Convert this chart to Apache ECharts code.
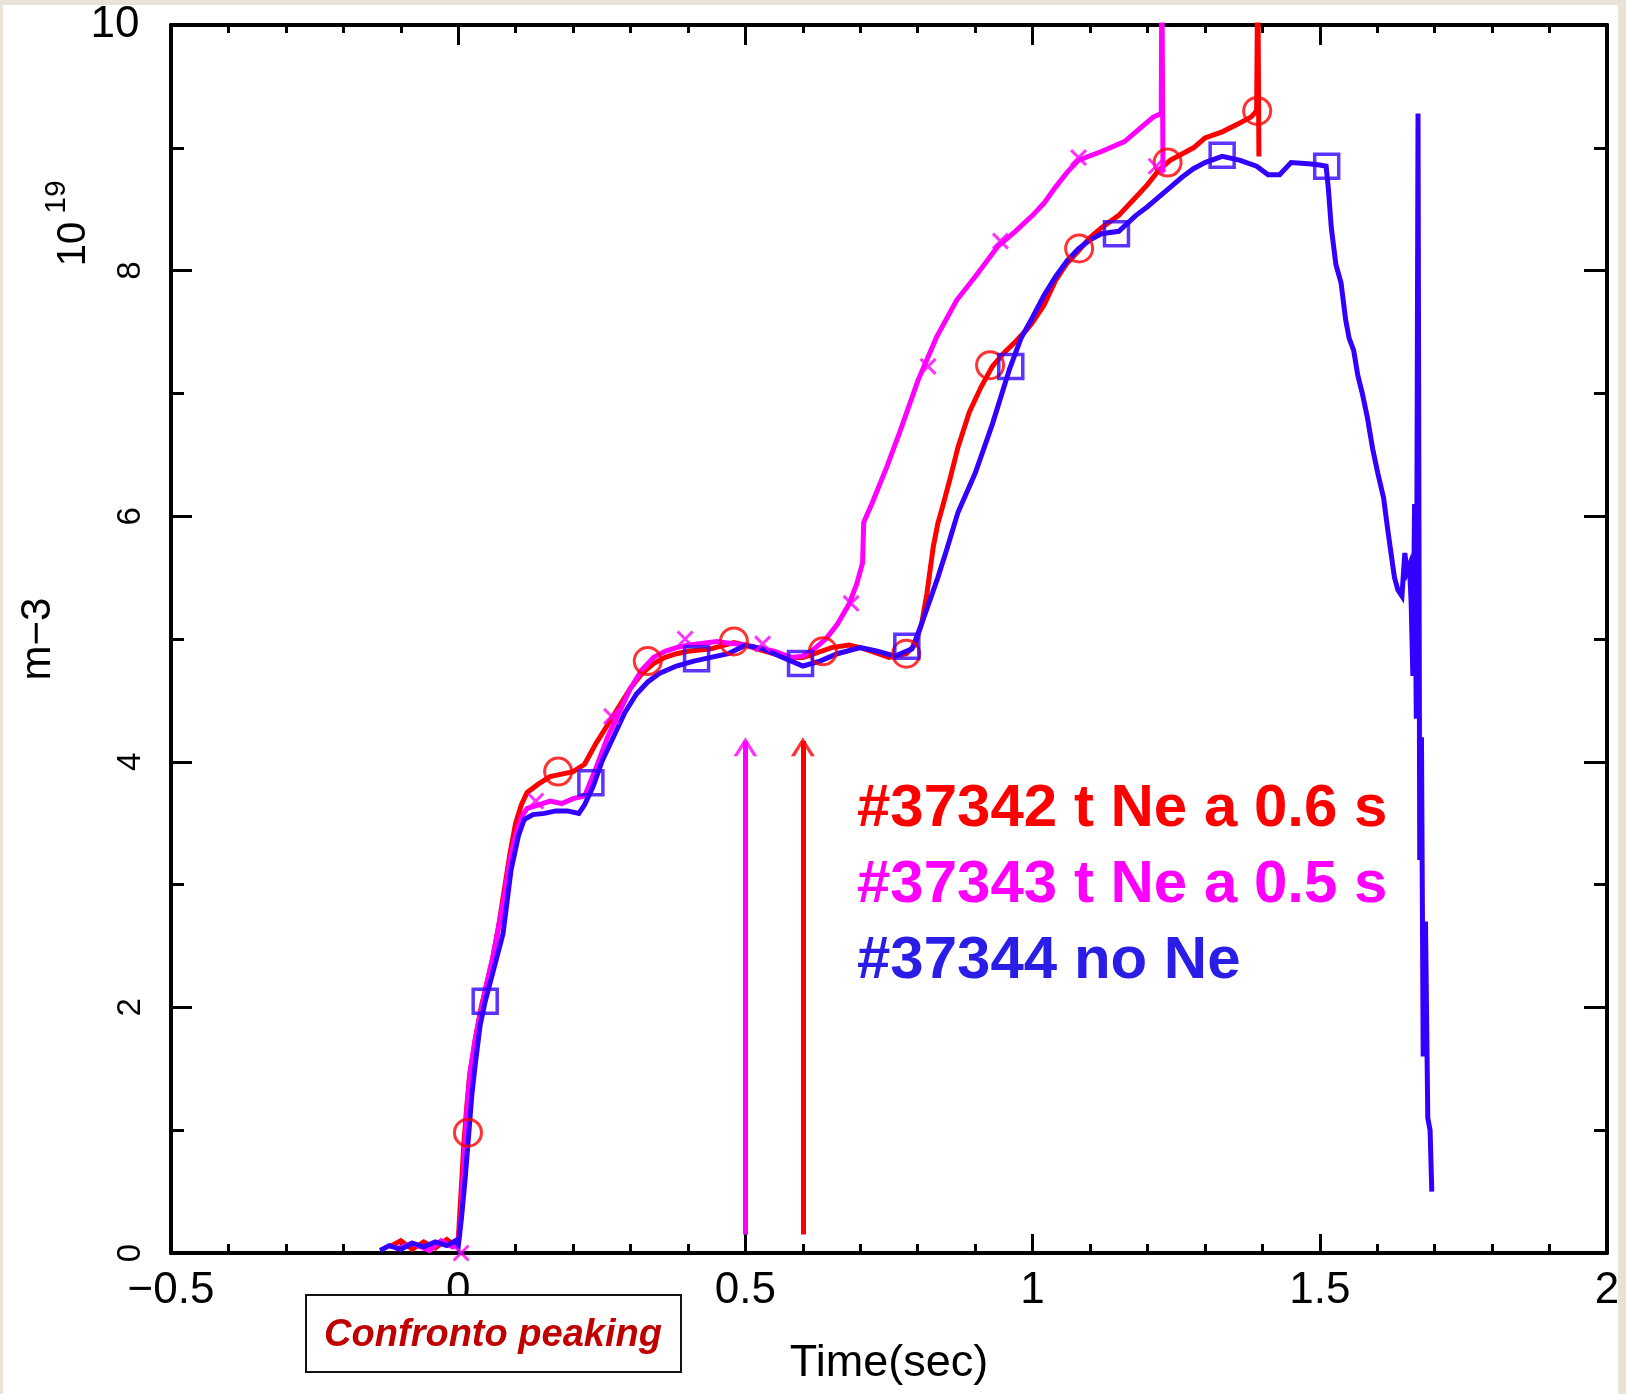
<!DOCTYPE html>
<html>
<head>
<meta charset="utf-8">
<script src="https://cdn.jsdelivr.net/npm/echarts@6/dist/echarts.min.js"></script>
<style>
  html, body { margin: 0; padding: 0; background: #ffffff; }
  #chart { width: 1626px; height: 1394px; }
</style>
</head>
<body>
<div id="chart"></div>
<script>
// ---------------- data (time in s, density in 1e19 m^-3) ----------------
const xTicks = [-0.5, 0, 0.5, 1, 1.5, 2];
const yTicks = [0, 2, 4, 6, 8, 10];

const shot37342 = [ // red, Ne at 0.6 s
  [-0.12,0.05],[-0.1,0.1],[-0.08,0.03],[-0.06,0.09],[-0.04,0.04],[-0.02,0.11],[-0.005,0.06],[0.0,0.1],
  [0.005,0.5],[0.01,0.9],[0.015,1.2],[0.02,1.45],[0.03,1.75],[0.04,2.0],[0.05,2.2],[0.06,2.4],
  [0.07,2.65],[0.08,2.95],[0.09,3.25],[0.1,3.5],[0.11,3.65],[0.12,3.75],[0.14,3.82],[0.16,3.88],
  [0.18,3.9],[0.2,3.92],[0.22,3.98],[0.24,4.15],[0.26,4.3],[0.28,4.45],[0.3,4.6],[0.32,4.72],
  [0.34,4.8],[0.36,4.85],[0.38,4.88],[0.4,4.9],[0.44,4.92],[0.48,4.97],[0.5,4.95],[0.52,4.92],
  [0.55,4.88],[0.58,4.85],[0.6,4.85],[0.62,4.88],[0.65,4.93],[0.68,4.95],[0.7,4.93],[0.72,4.9],
  [0.75,4.85],[0.78,4.88],[0.795,4.95],[0.807,5.13],[0.816,5.37],[0.827,5.75],[0.835,5.94],
  [0.844,6.09],[0.856,6.3],[0.87,6.56],[0.89,6.85],[0.91,7.05],[0.93,7.22],[0.95,7.33],[0.97,7.42],
  [0.99,7.52],[1.0,7.58],[1.02,7.72],[1.04,7.92],[1.06,8.06],[1.08,8.16],[1.1,8.27],[1.12,8.35],
  [1.15,8.45],[1.18,8.6],[1.2,8.7],[1.22,8.82],[1.24,8.9],[1.26,8.95],[1.28,9.0],[1.3,9.08],
  [1.33,9.13],[1.36,9.2],[1.38,9.25],[1.39,9.3],[1.392,10.5],[1.394,8.93]
];

const shot37343 = [ // magenta, Ne at 0.5 s
  [-0.11,0.03],[-0.08,0.08],[-0.05,0.02],[-0.03,0.1],[-0.01,0.05],[0.0,0.08],[0.005,0.3],[0.01,0.75],
  [0.015,1.15],[0.02,1.45],[0.03,1.75],[0.04,1.98],[0.05,2.2],[0.06,2.4],[0.07,2.65],[0.08,2.9],
  [0.09,3.2],[0.1,3.4],[0.11,3.55],[0.12,3.62],[0.14,3.65],[0.16,3.68],[0.18,3.66],[0.2,3.7],
  [0.22,3.72],[0.24,3.95],[0.26,4.2],[0.28,4.4],[0.3,4.6],[0.32,4.75],[0.34,4.85],[0.36,4.9],
  [0.38,4.93],[0.4,4.95],[0.45,4.98],[0.5,4.95],[0.55,4.9],[0.58,4.85],[0.6,4.86],[0.62,4.92],
  [0.64,5.0],[0.66,5.12],[0.68,5.28],[0.694,5.45],[0.704,5.62],[0.706,5.95],[0.72,6.1],[0.746,6.4],
  [0.77,6.7],[0.8,7.1],[0.833,7.46],[0.868,7.76],[0.9,7.95],[0.94,8.2],[0.97,8.32],[1.0,8.45],
  [1.02,8.55],[1.04,8.68],[1.06,8.8],[1.08,8.9],[1.12,8.97],[1.16,9.05],[1.19,9.17],[1.21,9.25],
  [1.224,9.28],[1.225,10.5],[1.227,8.8]
];

const shot37344 = [ // blue, no Ne
  [-0.136,0.02],[-0.12,0.06],[-0.1,0.03],[-0.08,0.08],[-0.06,0.05],[-0.04,0.09],[-0.02,0.06],[-0.005,0.1],
  [0.0,0.05],[0.006,0.3],[0.012,0.6],[0.018,0.95],[0.024,1.3],[0.03,1.55],[0.038,1.85],[0.047,2.05],
  [0.06,2.28],[0.078,2.6],[0.092,3.12],[0.105,3.4],[0.115,3.53],[0.13,3.57],[0.15,3.58],[0.17,3.6],
  [0.19,3.6],[0.21,3.58],[0.22,3.65],[0.235,3.8],[0.25,4.0],[0.27,4.2],[0.29,4.4],[0.31,4.55],
  [0.33,4.65],[0.35,4.72],[0.38,4.78],[0.41,4.82],[0.44,4.85],[0.47,4.88],[0.5,4.95],[0.53,4.92],
  [0.56,4.86],[0.6,4.78],[0.63,4.82],[0.66,4.88],[0.7,4.93],[0.73,4.9],[0.76,4.86],[0.79,4.92],
  [0.805,5.1],[0.82,5.3],[0.835,5.5],[0.85,5.72],[0.87,6.03],[0.9,6.35],[0.93,6.75],[0.96,7.2],
  [0.98,7.45],[1.0,7.62],[1.02,7.8],[1.04,7.95],[1.06,8.08],[1.08,8.18],[1.1,8.25],[1.12,8.3],
  [1.15,8.32],[1.18,8.45],[1.2,8.52],[1.22,8.6],[1.24,8.68],[1.26,8.76],[1.28,8.83],[1.3,8.88],
  [1.33,8.93],[1.36,8.9],[1.39,8.85],[1.41,8.78],[1.43,8.78],[1.45,8.88],[1.48,8.87],[1.5,8.86],
  [1.511,8.85],[1.515,8.66],[1.52,8.35],[1.528,8.05],[1.537,7.9],[1.545,7.6],[1.551,7.45],[1.559,7.35],
  [1.566,7.15],[1.574,7.0],[1.583,6.8],[1.592,6.55],[1.601,6.35],[1.611,6.15],[1.618,5.9],[1.624,5.7],
  [1.63,5.5],[1.636,5.4],[1.643,5.35],[1.648,5.7],[1.652,5.55],[1.656,5.6],[1.659,5.3],[1.662,4.7],
  [1.665,6.1],[1.668,4.35],[1.671,9.28],[1.674,3.2],[1.677,4.2],[1.68,1.6],[1.684,2.7],[1.688,1.1],
  [1.692,1.0],[1.695,0.5]
];

// markers drawn on the traces
const marks37342 = [[0.017,0.98],[0.174,3.92],[0.33,4.82],[0.48,4.98],[0.635,4.9],[0.78,4.88],[0.926,7.23],[1.081,8.18],[1.235,8.88],[1.391,9.3]];
const marks37343 = [[0.005,0.0],[0.135,3.68],[0.267,4.37],[0.395,5.0],[0.53,4.96],[0.684,5.29],[0.818,7.22],[0.944,8.24],[1.08,8.92],[1.215,8.85]];
const marks37344 = [[0.047,2.05],[0.231,3.83],[0.415,4.84],[0.596,4.8],[0.781,4.94],[0.962,7.22],[1.146,8.3],[1.33,8.94],[1.512,8.85]];

// Ne injection arrows (time, bottom, tip)
const arrowNe37343 = [0.5, 0.15, 4.2];
const arrowNe37342 = [0.6, 0.15, 4.2];

const legendLines = ['#37342 t Ne a 0.6 s', '#37343 t Ne a 0.5 s', '#37344 no Ne'];
const boxLabel = 'Confronto peaking';

// ---------------- styling ----------------
const RED = '#ff0000', MAG = '#ff00ff', BLUE = '#3300ff';
const FONT = '"Liberation Sans", Arial, sans-serif';
const ARROW = 'path://M0,8 L5,0 L10,8 L8.3,8 L5,2.4 L1.7,8 Z';
const XMARK = 'path://M0,0 L10,10 M10,0 L0,10';

const chart = echarts.init(document.getElementById('chart'), null, { renderer: 'canvas' });

function axisX(pos, showLabel, majorLen, minorLen) {
  return {
    type: 'value', position: pos, min: -0.5, max: 2, interval: 0.5,
    axisLine: { show: true, onZero: false, lineStyle: { color: '#000', width: 4 } },
    axisTick: { show: true, inside: true, length: majorLen, lineStyle: { color: '#000', width: 3 } },
    minorTick: { show: true, splitNumber: 5, length: minorLen, lineStyle: { color: '#000', width: 3 } },
    splitLine: { show: false },
    axisLabel: {
      show: showLabel, margin: 16, color: '#000', fontFamily: FONT, fontSize: 44,
      formatter: v => (v < 0 ? '\u2212' + Math.abs(v) : String(v))
    },
    name: showLabel ? 'Time(sec)' : '', nameLocation: 'middle', nameGap: 88,
    nameTextStyle: { color: '#000', fontFamily: FONT, fontSize: 45 }
  };
}
function axisY(pos, showLabel, majorLen, minorLen) {
  return {
    type: 'value', position: pos, min: 0, max: 10, interval: 2,
    axisLine: { show: true, onZero: false, lineStyle: { color: '#000', width: 4 } },
    axisTick: { show: true, inside: true, length: majorLen, lineStyle: { color: '#000', width: 3 } },
    minorTick: { show: true, splitNumber: 2, length: minorLen, lineStyle: { color: '#000', width: 3 } },
    splitLine: { show: false },
    axisLabel: {
      show: showLabel, rotate: 90, margin: 24, color: '#000', fontFamily: FONT, fontSize: 33,
      formatter: v => (v === 10 ? '' : String(v))
    },
    name: showLabel ? 'm\u22123' : '', nameLocation: 'middle', nameRotate: 90, nameGap: 112,
    nameTextStyle: { color: '#000', fontFamily: FONT, fontSize: 42 }
  };
}

function traceSeries(name, data, color, arrow) {
  const s = {
    name, type: 'line', data, xAxisIndex: 0, yAxisIndex: 0,
    symbol: 'none', showSymbol: false, clip: true, animation: false,
    lineStyle: { color, width: 5, join: 'miter' }, z: 3
  };
  if (arrow) {
    s.markLine = {
      silent: true, animation: false,
      symbol: ['none', 'none'],
      label: { show: false },
      lineStyle: { color, width: 5, type: 'solid' },
      data: [[{ coord: [arrow[0], arrow[1]] }, { coord: [arrow[0], arrow[2] - 0.03] }]]
    };
  }
  return s;
}
function arrowHead(arrow, color) {
  return {
    type: 'scatter', data: [[arrow[0], arrow[2]]], xAxisIndex: 0, yAxisIndex: 0,
    symbol: ARROW, symbolSize: [24, 19], symbolOffset: [0, '50%'],
    animation: false, silent: true, z: 3,
    itemStyle: { color, borderWidth: 0 }
  };
}
function markerSeries(data, color, symbol, size, bw) {
  return {
    type: 'scatter', data, xAxisIndex: 0, yAxisIndex: 0, symbol, symbolSize: size,
    animation: false, silent: true, z: 4,
    itemStyle: { color: 'rgba(0,0,0,0)', borderColor: color, borderWidth: bw }
  };
}

const option = {
  backgroundColor: '#ffffff',
  animation: false,
  grid: { left: 171, right: 19, top: 25, bottom: 141, containLabel: false },
  xAxis: [axisX('bottom', true, 19, 9), axisX('top', false, 20, 8)],
  yAxis: [axisY('left', true, 21, 13), axisY('right', false, 23, 13)],
  series: [
    traceSeries('#37342', shot37342, RED, arrowNe37342),
    traceSeries('#37343', shot37343, MAG, arrowNe37343),
    traceSeries('#37344', shot37344, BLUE, null),
    arrowHead(arrowNe37342, RED),
    arrowHead(arrowNe37343, MAG),
    markerSeries(marks37342, RED, 'circle', 27, 3),
    markerSeries(marks37343, MAG, XMARK, 15, 3),
    markerSeries(marks37344, BLUE, 'rect', 24, 3.5)
  ],
  graphic: [
    // frame
    { type: 'rect', shape: { x: 0, y: 0, width: 1626, height: 5 }, style: { fill: '#e8e3d6' }, z: 0 },
    { type: 'rect', shape: { x: 0, y: 0, width: 3, height: 1394 }, style: { fill: '#e8e3d6' }, z: 0 },
    { type: 'rect', shape: { x: 1618, y: 0, width: 8, height: 1394 }, style: { fill: '#e8e3d6' }, z: 0 },
    // top y tick label (upright)
    { type: 'text', x: 115, y: 25, style: { text: '10', fill: '#000', font: '44px ' + FONT, align: 'center', verticalAlign: 'middle' } },
    // exponent label
    { type: 'text', x: 74, y: 244, rotation: Math.PI / 2, style: { text: '10', fill: '#000', font: '40px ' + FONT, align: 'center', verticalAlign: 'middle' } },
    { type: 'text', x: 57, y: 197, rotation: Math.PI / 2, style: { text: '19', fill: '#000', font: '30px ' + FONT, align: 'center', verticalAlign: 'middle' } },
    // legend texts
    { type: 'text', x: 857, y: 809, style: { text: legendLines[0], fill: RED, font: 'bold 60px ' + FONT, align: 'left', verticalAlign: 'middle' } },
    { type: 'text', x: 857, y: 885, style: { text: legendLines[1], fill: MAG, font: 'bold 60px ' + FONT, align: 'left', verticalAlign: 'middle' } },
    { type: 'text', x: 857, y: 961, style: { text: legendLines[2], fill: '#2a1de6', font: 'bold 60px ' + FONT, align: 'left', verticalAlign: 'middle' } },
    // caption box
    { type: 'rect', shape: { x: 306, y: 1295, width: 375, height: 77 }, style: { fill: '#ffffff', stroke: '#111', lineWidth: 2 }, z: 10 },
    { type: 'text', x: 493, y: 1336, z: 11, style: { text: boxLabel, fill: '#c00000', font: 'italic bold 38px ' + FONT, align: 'center', verticalAlign: 'middle' } }
  ]
};
chart.setOption(option);
</script>
</body>
</html>
